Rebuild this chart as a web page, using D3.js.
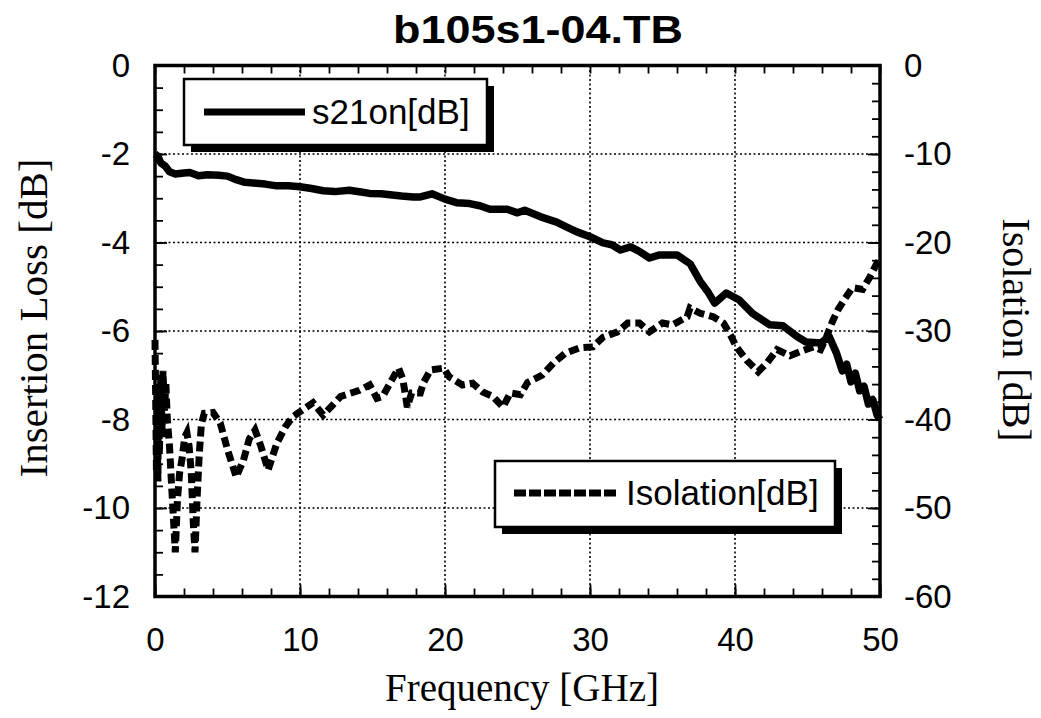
<!DOCTYPE html>
<html>
<head>
<meta charset="utf-8">
<script src="https://cdn.jsdelivr.net/npm/d3@7"></script>
<style>
  html, body { margin: 0; padding: 0; background: #fff; }
  svg { display: block; }
  .tick text { font-family: "Liberation Sans", Arial, sans-serif; font-size: 33px; fill: #000; }
  .domain { display: none; }
</style>
</head>
<body>
<svg id="chart" width="1041" height="718"></svg>
<script>
// Insertion loss (left axis) vs frequency
const s21Freq = [0, 0.2, 0.4, 0.7, 1.0, 1.4, 2.0, 2.4, 3.0, 3.6, 4.4, 5.0, 5.6, 6.2, 7.0, 7.6, 8.4, 9.2, 10.0, 10.8,
  11.6, 12.4, 13.4, 14.2, 14.8, 15.6, 16.2, 17.0, 17.8, 18.3, 19.1, 20.0, 20.8, 21.7, 22.4, 23.1, 24.3, 25.0, 25.5, 26.6,
  27.7, 28.4, 29.1, 30.0, 30.9, 31.5, 32.1, 32.8, 33.4, 34.1, 34.8, 36.0, 36.9, 37.6, 38.1, 38.6, 39.4, 40.3, 41.2, 42.4,
  43.3, 44.3, 44.9, 45.9, 46.5, 47.0, 47.4, 47.7, 48.0, 48.3, 48.6, 48.9, 49.2, 49.5, 49.8, 50.0];
const s21Loss = [-2.0, -2.05, -2.2, -2.27, -2.4, -2.45, -2.43, -2.42, -2.49, -2.47, -2.48, -2.5, -2.58, -2.64, -2.66, -2.68, -2.72, -2.72, -2.74, -2.78,
  -2.83, -2.85, -2.82, -2.86, -2.89, -2.9, -2.92, -2.95, -2.97, -2.97, -2.9, -3.02, -3.1, -3.12, -3.17, -3.25, -3.25, -3.33, -3.27, -3.42,
  -3.54, -3.65, -3.76, -3.87, -4.01, -4.05, -4.17, -4.1, -4.2, -4.35, -4.28, -4.28, -4.48, -4.88, -5.1, -5.37, -5.14, -5.3, -5.6, -5.86,
  -5.88, -6.13, -6.25, -6.27, -6.13, -6.5, -6.9, -6.75, -7.15, -6.95, -7.35, -7.25, -7.65, -7.55, -7.9, -8.0];

// Isolation (right axis) vs frequency
const isoFreq = [0.0, 0.05, 0.1, 0.15, 0.2, 0.25, 0.3, 0.4, 0.5, 0.55, 0.65, 0.75, 0.85, 1.0, 1.15, 1.3, 1.4, 1.55, 1.7, 1.86,
  2.05, 2.2, 2.35, 2.5, 2.65, 2.76, 2.9, 3.05, 3.2, 3.4, 4.0, 4.5, 5.0, 5.6, 6.1, 6.5, 6.9, 7.3, 7.8, 8.4,
  9.0, 9.5, 10.2, 10.9, 11.6, 12.4, 12.8, 14.1, 14.8, 15.3, 15.7, 16.2, 16.8, 17.1, 17.4, 17.7, 18.3, 18.5, 19.0, 19.9,
  20.3, 21.2, 21.9, 22.6, 23.3, 24.0, 24.5, 25.2, 25.7, 26.7, 27.5, 28.3, 29.3, 30.2, 30.9, 31.9, 32.6, 33.4, 34.1, 35.0,
  35.7, 36.7, 36.9, 37.6, 38.5, 39.2, 39.7, 40.1, 40.8, 41.6, 42.2, 42.9, 43.8, 44.7, 45.4, 45.9, 46.3, 46.7, 47.1, 47.6,
  48.1, 48.8, 49.3, 49.8, 50.0];
const isoDb = [-31, -38, -46, -40, -47, -36, -44, -35, -42, -34.5, -39, -36, -40, -43, -47.6, -52, -55, -49, -46, -44.5,
  -42, -41.5, -43, -46, -52, -55, -49, -44, -40.5, -39.3, -39.2, -40.4, -43.4, -46.5, -44.6, -42.2, -41.2, -43, -45.7, -42.7,
  -40.8, -39.7, -38.9, -38.1, -39.5, -38.1, -37.4, -36.7, -36.1, -37.6, -37.4, -35.9, -34.2, -35.5, -38.6, -37, -37, -35.9, -34.4, -34.2,
  -35.2, -36.1, -35.9, -36.9, -37.4, -38.6, -37, -37.2, -35.8, -35, -33.6, -32.5, -31.9, -31.8, -30.7, -30.1, -29.1, -29.1, -30.1, -29.1,
  -29.3, -28.4, -27.4, -28, -28.4, -29.1, -30.5, -31.8, -33.3, -34.6, -33.6, -32.1, -32.8, -32.2, -31.8, -32.1, -30.7, -29, -27.6, -26.3,
  -25.1, -25.3, -23.9, -22.3, -22];

const xTicks = [0, 10, 20, 30, 40, 50];
const leftTicks = [0, -2, -4, -6, -8, -10, -12];
const rightTicks = [0, -10, -20, -30, -40, -50, -60];

const titleText = "b105s1-04.TB";
const xTitle = "Frequency [GHz]";
const leftTitle = "Insertion Loss [dB]";
const rightTitle = "Isolation [dB]";
const s21Label = "s21on[dB]";
const isoLabel = "Isolation[dB]";

const svg = d3.select("#chart");
const L = 155, R = 880, T = 65.5, B = 596.5;

const x = d3.scaleLinear().domain([0, 50]).range([L, R]);
const yL = d3.scaleLinear().domain([-12, 0]).range([B, T]);
const yR = d3.scaleLinear().domain([-60, 0]).range([B, T]);

// plain hyphen-minus tick labels
const fmt = d => String(d);

// dotted grid at major ticks
const grid = svg.append("g").attr("stroke", "#000").attr("stroke-width", 1.6)
  .attr("stroke-dasharray", "2,2.5").attr("fill", "none");
xTicks.slice(1, -1).forEach(v => grid.append("line")
  .attr("x1", x(v)).attr("x2", x(v)).attr("y1", T).attr("y2", B));
leftTicks.slice(1, -1).forEach(v => grid.append("line")
  .attr("x1", L).attr("x2", R).attr("y1", yL(v)).attr("y2", yL(v)));

// axes with inward ticks
function addAxis(axis, tr) {
  const g = svg.append("g").attr("transform", tr).call(axis);
  g.selectAll(".tick line").attr("stroke", "#000").attr("stroke-width", 1.8);
  return g;
}
const minorX = d3.range(0, 50.01, 2);
const minorL = d3.range(-12, 0.01, 0.5);
const minorR = d3.range(-60, 0.01, 2);

addAxis(d3.axisBottom(x).tickValues(minorX).tickSize(-8).tickFormat(""), `translate(0,${B})`);
addAxis(d3.axisTop(x).tickValues(minorX).tickSize(-8).tickFormat(""), `translate(0,${T})`);
addAxis(d3.axisLeft(yL).tickValues(minorL).tickSize(-8).tickFormat(""), `translate(${L},0)`);
addAxis(d3.axisRight(yR).tickValues(minorR).tickSize(-8).tickFormat(""), `translate(${R},0)`);

addAxis(d3.axisBottom(x).tickValues(xTicks).tickSize(-12).tickPadding(31).tickFormat(fmt), `translate(0,${B})`);
addAxis(d3.axisLeft(yL).tickValues(leftTicks).tickSize(-12).tickPadding(25).tickFormat(fmt), `translate(${L},0)`);
addAxis(d3.axisRight(yR).tickValues(rightTicks).tickSize(-12).tickPadding(24).tickFormat(fmt), `translate(${R},0)`);

// frame
svg.append("rect").attr("x", L).attr("y", T).attr("width", R - L).attr("height", B - T)
  .attr("fill", "none").attr("stroke", "#000").attr("stroke-width", 3.5);

// series
const s21Data = s21Freq.map((f, i) => [f, s21Loss[i]]);
const isoData = isoFreq.map((f, i) => [f, isoDb[i]]);

svg.append("path").datum(isoData)
  .attr("d", d3.line().x(d => x(d[0])).y(d => yR(d[1])))
  .attr("fill", "none").attr("stroke", "#000").attr("stroke-width", 7)
  .attr("stroke-dasharray", "10,5").attr("stroke-linejoin", "miter");

svg.append("path").datum(s21Data)
  .attr("d", d3.line().x(d => x(d[0])).y(d => yL(d[1])))
  .attr("fill", "none").attr("stroke", "#000").attr("stroke-width", 7.5)
  .attr("stroke-linejoin", "round");

// legend boxes with drop shadow
function legendBox(x0, y0, w, h) {
  svg.append("rect").attr("x", x0 + 7).attr("y", y0 + 7).attr("width", w).attr("height", h).attr("fill", "#000");
  svg.append("rect").attr("x", x0).attr("y", y0).attr("width", w).attr("height", h)
    .attr("fill", "#fff").attr("stroke", "#000").attr("stroke-width", 2.5);
}
legendBox(184, 79, 303, 66);
svg.append("line").attr("x1", 204).attr("x2", 305).attr("y1", 112).attr("y2", 112)
  .attr("stroke", "#000").attr("stroke-width", 7);
svg.append("text").attr("x", 312).attr("y", 124).text(s21Label)
  .attr("font-family", "Liberation Sans, Arial, sans-serif").attr("font-size", 35);

legendBox(495, 461, 340, 66);
svg.append("line").attr("x1", 514).attr("x2", 618).attr("y1", 493).attr("y2", 493)
  .attr("stroke", "#000").attr("stroke-width", 7).attr("stroke-dasharray", "12,3");
svg.append("text").attr("x", 626).attr("y", 505).text(isoLabel)
  .attr("font-family", "Liberation Sans, Arial, sans-serif").attr("font-size", 35);

// titles
svg.append("text").attr("x", 393).attr("y", 43)
  .attr("font-family", "Liberation Sans, Arial, sans-serif").attr("font-weight", "bold")
  .attr("font-size", 38).attr("textLength", 290).attr("lengthAdjust", "spacingAndGlyphs").text(titleText);

svg.append("text").attr("x", 522).attr("y", 701).attr("text-anchor", "middle")
  .attr("font-family", "Liberation Serif, Times New Roman, serif").attr("font-size", 39).text(xTitle);

svg.append("text").attr("transform", "translate(47,318) rotate(-90)").attr("text-anchor", "middle")
  .attr("font-family", "Liberation Serif, Times New Roman, serif").attr("font-size", 41).text(leftTitle);

svg.append("text").attr("transform", "translate(1003,330) rotate(90)").attr("text-anchor", "middle")
  .attr("font-family", "Liberation Serif, Times New Roman, serif").attr("font-size", 40).text(rightTitle);
</script>
</body>
</html>
